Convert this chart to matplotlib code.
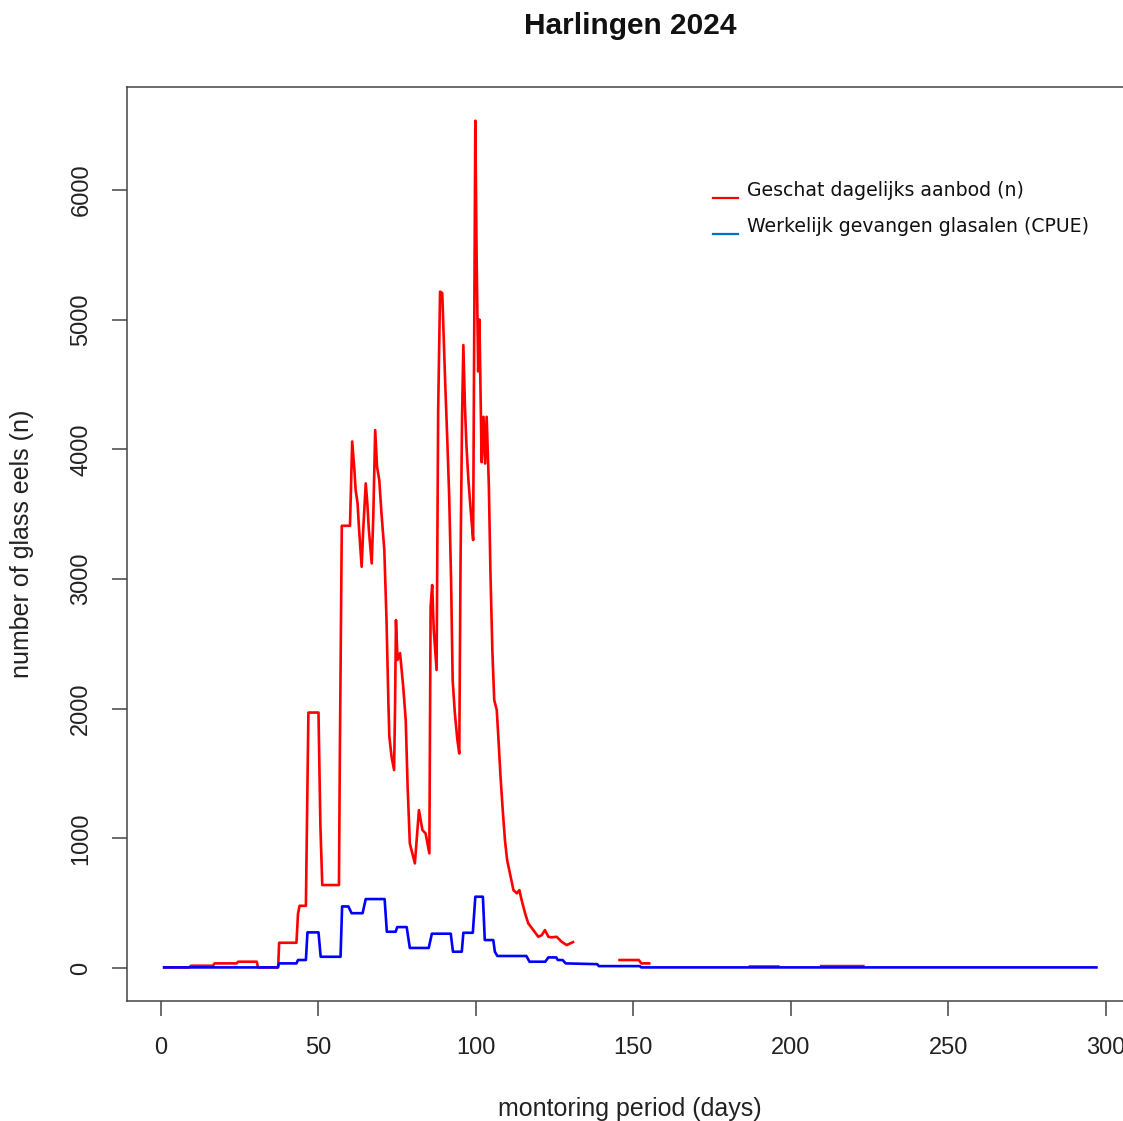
#Importing Relevant Libraries
import numpy as np
import matplotlib
matplotlib.use("Agg")
import matplotlib.pyplot as plt
from matplotlib.lines import Line2D

nan = np.nan

#Estimated daily supply (red)
red_days = [1, 9, 9.5, 16.5, 17, 24, 24.5, 30.4, 30.8, 37.2, 37.5, 43, 43.5, 44, 46, 46.8, 50, 50.6, 51.2,
            56.5, 56.8, 57.4, 60, 60.7, 61.4, 61.8, 62.4, 62.9, 63.7, 64.2, 65, 65.5, 66, 66.9, 67.4, 68,
            68.6, 69.3, 70, 70.9, 71.6, 72.2, 72.5, 73.2, 74, 74.3, 74.6, 75.1, 75.9, 76.9, 77.7, 78.3,
            79, 80.6, 81.9, 83, 84, 85.2, 85.6, 86.1, 86.6, 87.5, 88, 88.6, 89.3, 90.2, 90.9, 91.5, 92.1,
            92.6, 93.3, 94.1, 94.7, 95.1, 95.6, 96, 96.5, 97, 97.6, 98.4, 99.1, 99.8, 100.2, 100.7, 101.1,
            101.8, 102.4, 102.9, 103.4, 104.1, 104.6, 105.2, 105.8, 106.6, 107.1, 107.8, 108.5, 109.2,
            109.9, 111, 111.9, 113, 113.8, 114.5, 115.6, 116.6, 118.2, 119.8, 120.9, 121.9, 123, 124,
            125.6, 127.2, 128.8, 130.4, 130.8, nan,
            145.6, 151.7, 152.5, 155, nan,
            187, 196, nan,
            209.6, 223]
red_vals = [5, 5, 18, 18, 36, 36, 49, 49, 5, 5, 195, 195, 420, 480, 480, 1970, 1970, 1100, 640,
            640, 1700, 3410, 3410, 4060, 3840, 3685, 3585, 3377, 3094, 3377, 3737, 3585, 3377, 3120, 3480, 4148,
            3865, 3762, 3506, 3223, 2683, 2041, 1784, 1630, 1527, 1990, 2683, 2375, 2428, 2170, 1912, 1398,
            961, 807, 1218, 1064, 1038, 884, 2786, 2953, 2606, 2298, 4302, 5215, 5204, 4533, 4071, 3634, 2992,
            2220, 1964, 1758, 1655, 3120, 4277, 4803, 4328, 4019, 3762, 3508, 3300, 6533, 5500, 4600, 5000,
            3900, 4250, 3890, 4250, 3710, 3045, 2452, 2066, 1990, 1784, 1475, 1218, 987,
            833, 704, 601, 576, 601, 524, 422, 345, 293, 241, 254, 293, 241, 237,
            241, 203, 177, 195, 200, nan,
            62, 62, 36, 36, nan,
            12, 12, nan,
            15, 15]

#Actually caught glass eels (blue)
blue_days = [1, 37, 37.5, 43, 43.5, 46, 46.5, 50, 50.7, 57, 57.5, 59.5, 60.5, 64, 65, 71, 71.7, 74.5,
             75, 78, 79, 85, 86, 92, 92.7, 95.5, 96, 99, 99.8, 102.2, 102.8, 105.5, 106, 106.8, 116,
             117, 122, 123, 125.5, 126, 127.5, 128.5, 138.5, 139, 152, 152.5, 297]
blue_vals = [5, 5, 36, 36, 62, 62, 275, 275, 87, 87, 475, 475, 423, 423, 532, 532, 280, 280,
             316, 316, 155, 155, 265, 265, 126, 126, 272, 272, 550, 550, 216, 216, 126, 93, 93,
             49, 49, 82, 82, 62, 62, 36, 30, 15, 15, 5, 5]

x_ticks = [0, 50, 100, 150, 200, 250, 300]
y_ticks = [0, 1000, 2000, 3000, 4000, 5000, 6000]
legend_labels = ["Geschat dagelijks aanbod (n)", "Werkelijk gevangen glasalen (CPUE)"]

W, H = 1123, 1121
fig = plt.figure(figsize=(W / 100, H / 100), dpi=100)
plt.rcParams['font.family'] = ['Liberation Sans', 'DejaVu Sans']

#axes box, right edge runs past the image like the original
ax = fig.add_axes([127 / W, 1 - 1001 / H, (1132 - 127) / W, (1001 - 87) / H])
ax.plot(red_days, red_vals, color="#ff0000", lw=1.9, solid_joinstyle="round")
ax.plot(blue_days, blue_vals, color="#0000ff", lw=1.9, solid_joinstyle="round")

ax.set_xlim(-10.8, 308.3)
ax.set_ylim(-254, 6793)
ax.set_xticks(x_ticks)
ax.set_yticks(y_ticks)
ax.tick_params(axis="both", length=11, width=1.1, color="#444444", labelsize=17, labelcolor="#222222")
ax.tick_params(axis="x", pad=15)
ax.tick_params(axis="y", pad=14)
for lab in ax.get_yticklabels():
    lab.set_rotation(90)
    lab.set_va("center")
for sp in ax.spines.values():
    sp.set_color("#444444")
    sp.set_linewidth(1.1)

#texts
fig.text(630 / W, 1 - 26 / H, "Harlingen 2024", ha="center", va="center",
         fontsize=21.5, fontweight="bold", color="#111111")
fig.text(22 / W, 1 - 544 / H, "number of glass eels (n)", ha="center", va="center",
         rotation=90, fontsize=18, color="#222222")
fig.text(630 / W, 1 - 1109 / H, "montoring period (days)", ha="center", va="center",
         fontsize=18, color="#222222")

#hand drawn legend
leg_cols = ["#ff0000", "#0070c0"]
for i, (lab, c) in enumerate(zip(legend_labels, leg_cols)):
    yl = 198 + 36 * i
    yt = 191 + 36 * i
    fig.add_artist(Line2D([713 / W, 738 / W], [1 - yl / H, 1 - yl / H], color=c, lw=1.6))
    fig.text(747 / W, 1 - yt / H, lab, ha="left", va="center", fontsize=13.6,
             family="DejaVu Sans", color="#111111")

fig.savefig("out.png", dpi=100)
